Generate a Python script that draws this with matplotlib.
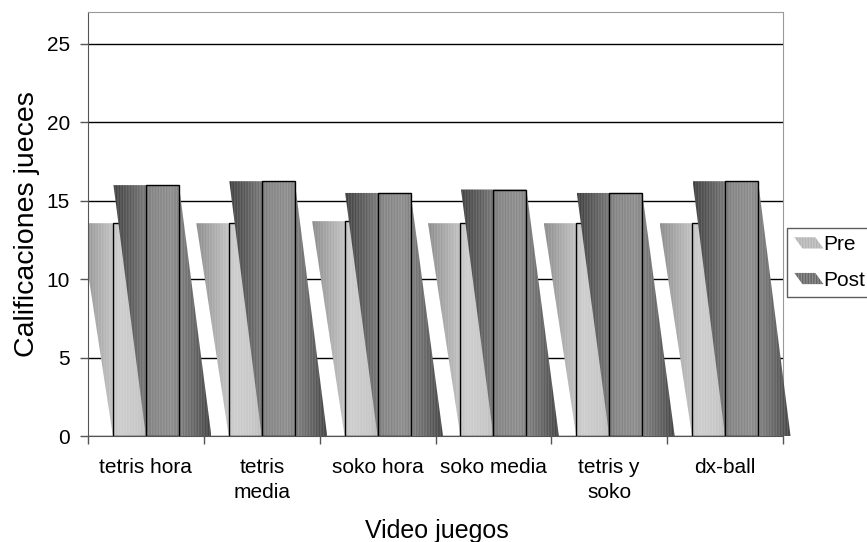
import numpy as np
import matplotlib
matplotlib.use("Agg")
import matplotlib.pyplot as plt
from matplotlib.patches import Polygon, Rectangle, Patch
from matplotlib.colors import LinearSegmentedColormap
from matplotlib.transforms import Bbox, TransformedBbox
from matplotlib.legend_handler import HandlerPatch

# Datos
categorias = ["tetris hora", "tetris\nmedia", "soko hora", "soko media", "tetris y\nsoko", "dx-ball"]
pre = [13.57, 13.57, 13.70, 13.57, 13.57, 13.57]
post = [16.00, 16.25, 15.50, 15.72, 15.50, 16.25]
series = ["Pre", "Post"]
yticks = [0, 5, 10, 15, 20, 25]

plt.rcParams["font.family"] = ["Liberation Sans", "DejaVu Sans"]

# Degradados tipo "cilindro" de Excel
cmap_pre = LinearSegmentedColormap.from_list(
    "pre", ["#8a8a8a", "#adadad", "#cdcdcd", "#c6c6c6", "#a4a4a4", "#7c7c7c"])
cmap_post = LinearSegmentedColormap.from_list(
    "post", ["#3e3e3e", "#5e5e5e", "#848484", "#8c8c8c", "#6a6a6a", "#424242"])

fig = plt.figure(figsize=(8.67, 5.42), dpi=100)
ax = fig.add_axes([88 / 867, 106 / 542, 695 / 867, 424 / 542])

# recorte: solo por la izquierda/abajo/arriba, la sombra puede salir por la derecha
clip = TransformedBbox(Bbox([[0, 0], [1.05, 1]]), ax.transAxes)

ancho = 0.285
desv = 0.28
zo = [2.0]


def barra(x0, valor, cmap):
    izq, der = x0, x0 + ancho
    pts = [[izq - desv, valor], [der, valor], [der + desv, 0], [izq, 0]]
    forma = Polygon(pts, closed=True, facecolor="none", edgecolor="none")
    ax.add_patch(forma)
    grad = np.linspace(0, 1, 256).reshape(1, -1)
    im = ax.imshow(grad, cmap=cmap, aspect="auto", interpolation="bilinear",
                   extent=[izq - desv, der + desv, 0, valor], zorder=zo[0])
    im.set_clip_path(forma)
    im.set_clip_box(clip)
    rayas = Polygon(pts, closed=True, fill=False, hatch="||||||",
                    edgecolor=(1, 1, 1, 0.13), lw=0, zorder=zo[0] + 0.01)
    ax.add_patch(rayas)
    rayas.set_clip_box(clip)
    ax.add_patch(Rectangle((izq, 0), ancho, valor, fill=False,
                           edgecolor="black", lw=1, zorder=zo[0] + 0.02))
    zo[0] += 0.1


for i in range(len(categorias)):
    barra(i + 0.215, pre[i], cmap_pre)
    barra(i + 0.5, post[i], cmap_post)

ax.set_xlim(0, len(categorias))
ax.set_ylim(0, 27.04)

ax.set_yticks(yticks)
ax.yaxis.grid(True, color="black", lw=1)
ax.set_axisbelow(True)
ax.tick_params(axis="y", length=6, width=1, color="#555555", pad=7, labelsize=15)

ax.set_xticks(range(len(categorias) + 1))
ax.set_xticklabels([])
ax.set_xticks(np.arange(len(categorias)) + 0.5, minor=True)
ax.set_xticklabels(categorias, minor=True, linespacing=1.4)
ax.tick_params(axis="x", which="major", length=6, width=1, color="#555555")
ax.tick_params(axis="x", which="minor", length=0, pad=16, labelsize=15)

for lado in ["left", "bottom"]:
    ax.spines[lado].set_color("#555555")
for lado in ["top", "right"]:
    ax.spines[lado].set_color("#9a9a9a")

ax.set_ylabel("Calificaciones jueces", fontsize=20.5)
ax.yaxis.set_label_coords(-0.069, 0.5)
fig.text(437 / 867, 4 / 542, "Video juegos", fontsize=18, ha="center", va="baseline")


class HandlerSesgo(HandlerPatch):
    def create_artists(self, legend, orig_handle, xdescent, ydescent,
                       width, height, fontsize, trans):
        x0, y0 = -xdescent, -ydescent
        pts = [[x0, y0 + height], [x0 + width * 0.72, y0 + height],
               [x0 + width, y0], [x0 + width * 0.28, y0]]
        p = Polygon(pts, closed=True, facecolor=orig_handle.get_facecolor(),
                    edgecolor=(1, 1, 1, 0.25), hatch="||||||", lw=0, transform=trans)
        return [p]


manijas = [Patch(facecolor="#b4b4b4"), Patch(facecolor="#666666")]
leg = fig.legend(manijas, series, loc="upper left",
                 bbox_to_anchor=(787 / 867, 1 - 228 / 542),
                 handler_map={Patch: HandlerSesgo()},
                 fontsize=15, frameon=True, fancybox=False, edgecolor="#333333",
                 handlelength=1.4, handleheight=0.45, handletextpad=0.0,
                 borderpad=0.35, labelspacing=0.8, borderaxespad=0)
leg.get_frame().set_linewidth(1)

fig.savefig("out.png", dpi=100)
